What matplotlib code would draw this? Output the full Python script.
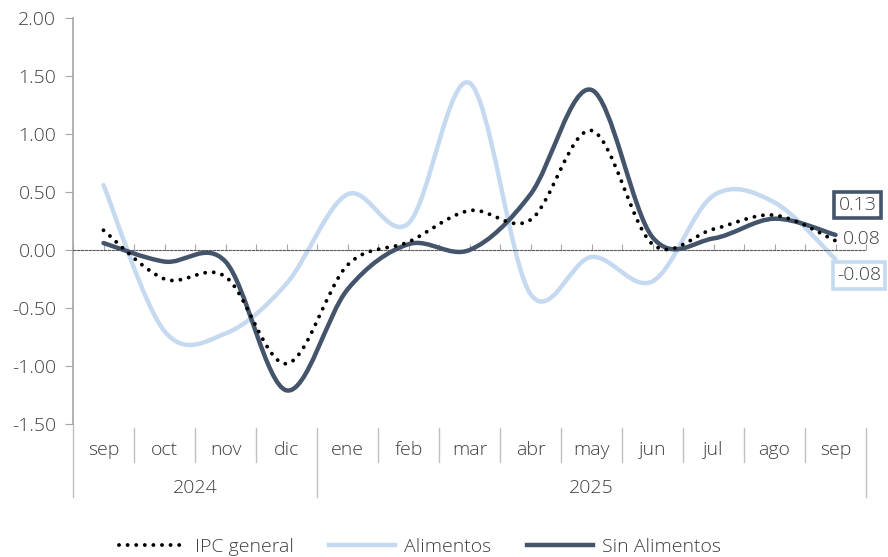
import numpy as np
import matplotlib
matplotlib.use('Agg')
import matplotlib.pyplot as plt
from matplotlib.path import Path
from matplotlib.patches import PathPatch
from matplotlib.lines import Line2D
import matplotlib.transforms as mtransforms

# data (variación mensual, %)
months = ['sep', 'oct', 'nov', 'dic', 'ene', 'feb', 'mar', 'abr', 'may', 'jun', 'jul', 'ago', 'sep']
years = ['2024', '2025']
year_lengths = [4, 9]
ipc_general = [0.17, -0.25, -0.23, -0.98, -0.13, 0.07, 0.34, 0.26, 1.03, 0.05, 0.18, 0.30, 0.08]
alimentos = [0.56, -0.70, -0.72, -0.29, 0.48, 0.23, 1.44, -0.38, -0.06, -0.27, 0.47, 0.41, -0.08]
sin_alimentos = [0.06, -0.10, -0.10, -1.21, -0.34, 0.05, 0.00, 0.48, 1.38, 0.11, 0.10, 0.27, 0.13]

DARK = '#44546A'
LIGHT = '#C5DAF0'
TXT = '#404040'
GRID = '#A6A6A6'

plt.rcParams['font.family'] = ['Open Sans', 'DejaVu Sans']
plt.rcParams['font.weight'] = 'light'
plt.rcParams['font.size'] = 14


def smooth_path(xs, ys):
    # bezier path like excel's "smoothed line" (catmull-rom)
    pts = np.column_stack([xs, ys]).astype(float)
    ext = np.vstack([pts[0], pts, pts[-1]])
    verts = [pts[0]]
    codes = [Path.MOVETO]
    for i in range(len(pts) - 1):
        p0, p1, p2, p3 = ext[i], ext[i + 1], ext[i + 2], ext[i + 3]
        verts += [p1 + (p2 - p0) / 6, p2 - (p3 - p1) / 6, p2]
        codes += [Path.CURVE4] * 3
    return Path(verts, codes)


fig = plt.figure(figsize=(8.88, 5.57), dpi=100)
ax = fig.add_axes([73 / 888, 1 - 424 / 557, 793 / 888, 406 / 557])

x = np.arange(len(months))
dots = (0, (0.01, 2.2))
series = [
    (alimentos, dict(edgecolor=LIGHT, lw=3.2, capstyle='round'), 2),
    (sin_alimentos, dict(edgecolor=DARK, lw=3.2, capstyle='round'), 3),
    (ipc_general, dict(edgecolor='black', lw=2.8, linestyle=dots, capstyle='round'), 4),
]
for vals, style, z in series:
    ax.add_patch(PathPatch(smooth_path(x, vals), fill=False, zorder=z, **style))

ax.set_xlim(-0.5, len(months) - 0.5)
ax.set_ylim(-1.5, 2.0)
ax.set_yticks(np.arange(-1.5, 2.01, 0.5))
ax.set_yticklabels([f'{v:.2f}' for v in np.arange(-1.5, 2.01, 0.5)], color=TXT)
ax.tick_params(axis='y', direction='out', length=6, color=GRID, pad=6)

for s in ['top', 'right']:
    ax.spines[s].set_visible(False)
ax.spines['left'].set_color(GRID)
ax.spines['left'].set_linewidth(1.2)
ax.spines['bottom'].set_position(('data', 0))
ax.spines['bottom'].set_linestyle((0, (2, 1.5)))
ax.spines['bottom'].set_color('#595959')
ax.spines['bottom'].set_linewidth(0.8)
ax.set_xticks(np.arange(-0.5, len(months), 0.5))
ax.tick_params(axis='x', direction='in', length=4, color=GRID, labelbottom=False)

# category axis below the plot
trans = mtransforms.blended_transform_factory(ax.transData, ax.transAxes)
for i, m in enumerate(months):
    ax.text(i, -0.064, m, transform=trans, ha='center', va='center', color=TXT)
bounds = np.cumsum([0] + year_lengths) - 0.5
for b in np.arange(-0.5, len(months), 1.0):
    long_line = np.any(np.isclose(b, bounds))
    y_end = -0.18 if long_line else -0.094
    ax.plot([b, b], [-0.01 if b > -0.5 else 0, y_end], transform=trans,
            color='#BFBFBF', lw=1.0, clip_on=False)
for yr, a, b in zip(years, bounds[:-1], bounds[1:]):
    ax.text((a + b) / 2, -0.157, yr, transform=trans, ha='center', va='center', color=TXT)

# end labels
last = len(months) - 1
ax.annotate(f'{sin_alimentos[-1]:.2f}', xy=(last, sin_alimentos[-1]), xytext=(16, 21.5),
            textcoords='offset points', ha='center', va='center', color=TXT, annotation_clip=False,
            bbox=dict(boxstyle='square,pad=0.22', fc='white', ec=DARK, lw=2.6), zorder=6)
ax.annotate(f'{ipc_general[-1]:.2f}', xy=(last, ipc_general[-1]), xytext=(5, 1.5),
            textcoords='offset points', ha='left', va='center', color=TXT, annotation_clip=False,
            zorder=6)
ax.annotate(f'{alimentos[-1]:.2f}', xy=(last, alimentos[-1]), xytext=(17, -11.5),
            textcoords='offset points', ha='center', va='center', color=TXT, annotation_clip=False,
            bbox=dict(boxstyle='square,pad=0.22', fc='white', ec=LIGHT, lw=2.6), zorder=6)

handles = [
    Line2D([], [], color='black', lw=2.8, linestyle=dots, dash_capstyle='round'),
    Line2D([], [], color=LIGHT, lw=3.2),
    Line2D([], [], color=DARK, lw=3.2),
]
fig.legend(handles, ['IPC general', 'Alimentos', 'Sin Alimentos'], loc='center',
           bbox_to_anchor=(0.473, 0.018), ncol=3, frameon=False, handlelength=3.4,
           columnspacing=1.8, handletextpad=0.5, labelcolor=TXT)

fig.savefig('out.png', dpi=100)
